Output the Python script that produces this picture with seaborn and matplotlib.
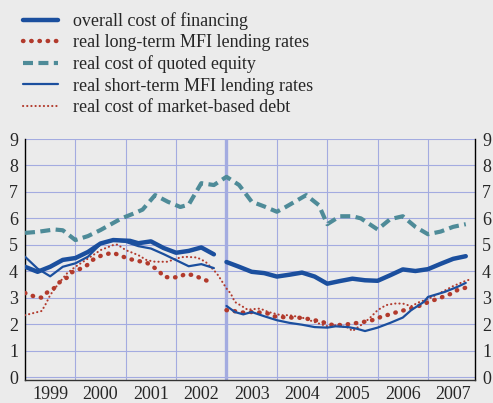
import numpy as np
import pandas as pd
import seaborn as sns
import matplotlib
matplotlib.use("Agg")
import matplotlib.pyplot as plt

# months since January 1999, values in % per annum
overall_m1 = [0, 3, 6, 9, 12, 15, 18, 21, 25, 27, 30, 33, 36, 39, 42, 45]
overall_v1 = [4.17, 3.98, 4.17, 4.43, 4.50, 4.73, 5.05, 5.18, 5.15, 5.06, 5.13, 4.88, 4.70, 4.77, 4.90, 4.64]
overall_m2 = [48, 51, 54, 57, 60, 63, 66, 69, 72, 75, 78, 81, 84, 87, 90, 93, 96, 99, 102, 105]
overall_v2 = [4.35, 4.17, 3.98, 3.93, 3.80, 3.87, 3.95, 3.80, 3.53, 3.63, 3.72, 3.66, 3.64, 3.85,
              4.07, 4.01, 4.08, 4.28, 4.47, 4.57]

longterm_m1 = [0, 2, 4, 5, 7, 8, 10, 11, 13, 15, 16, 18, 20, 21, 23, 25, 27, 29, 30, 32, 33, 35,
               37, 38, 40, 42, 44]
longterm_v1 = [3.18, 3.06, 3.00, 3.17, 3.37, 3.56, 3.76, 3.95, 4.08, 4.25, 4.42, 4.58, 4.67, 4.70,
               4.57, 4.46, 4.39, 4.32, 4.23, 4.00, 3.79, 3.76, 3.79, 3.89, 3.86, 3.73, 3.60]
longterm_m2 = [48, 50, 52, 54, 56, 58, 59, 61, 63, 65, 67, 69, 71, 72, 74, 76, 78, 80, 82, 84, 85,
               87, 89, 91, 93, 95, 96, 98, 100, 102, 103, 105]
longterm_v2 = [2.53, 2.49, 2.44, 2.46, 2.44, 2.40, 2.30, 2.27, 2.25, 2.25, 2.21, 2.15, 2.08, 2.00,
               1.96, 1.98, 2.02, 2.07, 2.12, 2.21, 2.30, 2.37, 2.48, 2.55, 2.65, 2.74, 2.84, 2.94,
               3.06, 3.18, 3.29, 3.38]

equity_m = [0, 3, 7, 9, 12, 15, 18, 23, 26, 28, 31, 34, 37, 39, 42, 45, 48, 51, 54, 57, 60, 62,
            67, 70, 72, 75, 78, 80, 84, 87, 90, 93, 96, 99, 102, 105]
equity_v = [5.45, 5.49, 5.58, 5.55, 5.18, 5.33, 5.56, 6.00, 6.19, 6.33, 6.88, 6.63, 6.43, 6.52,
            7.33, 7.26, 7.57, 7.26, 6.63, 6.45, 6.25, 6.42, 6.88, 6.50, 5.78, 6.08, 6.08, 6.00,
            5.58, 5.97, 6.08, 5.68, 5.40, 5.50, 5.68, 5.78]

shortterm_m1 = [0, 3, 6, 9, 12, 15, 18, 21, 24, 27, 30, 33, 36, 39, 42, 45]
shortterm_v1 = [4.55, 4.10, 3.81, 4.17, 4.30, 4.55, 5.03, 5.18, 5.11, 4.95, 4.86, 4.65, 4.42, 4.19,
                4.27, 4.12]
shortterm_m2 = [48, 50, 52, 54, 57, 60, 63, 66, 69, 72, 74, 77, 79, 81, 84, 87, 90, 92, 95, 96,
                100, 103, 105]
shortterm_v2 = [2.69, 2.46, 2.37, 2.46, 2.30, 2.15, 2.05, 1.98, 1.89, 1.87, 1.92, 1.89, 1.83, 1.74,
                1.87, 2.05, 2.25, 2.53, 2.84, 3.03, 3.22, 3.41, 3.56]

market_m = [0, 2, 4, 5, 6, 8, 10, 12, 15, 18, 21, 22, 24, 27, 29, 31, 34, 36, 38, 41, 43, 45, 46,
            48, 49, 50, 52, 53, 56, 58, 61, 63, 66, 69, 72, 74, 77, 78, 80, 82, 84, 86, 88, 90,
            92, 94, 96, 99, 102, 105, 106]
market_v = [2.34, 2.42, 2.50, 2.78, 3.10, 3.54, 3.92, 4.17, 4.48, 4.80, 4.99, 5.01, 4.80, 4.61,
            4.42, 4.36, 4.36, 4.48, 4.55, 4.52, 4.36, 4.04, 3.85, 3.35, 3.16, 2.84, 2.65, 2.55,
            2.59, 2.46, 2.34, 2.34, 2.25, 2.08, 1.92, 1.96, 1.87, 1.74, 1.96, 2.21, 2.53, 2.72,
            2.78, 2.78, 2.68, 2.84, 2.95, 3.19, 3.44, 3.64, 3.69]

years = ["1999", "2000", "2001", "2002", "2003", "2004", "2005", "2006", "2007"]
break_month = 48

labels = ["overall cost of financing", "real long-term MFI lending rates",
          "real cost of quoted equity", "real short-term MFI lending rates",
          "real cost of market-based debt"]

# colours
bg = "#ebebeb"
grid_col = "#a3abe0"
blue = "#1b4f9e"
red = "#b23a2c"
teal = "#4e8b98"

sns.set_theme(style="white")
plt.rcParams["font.family"] = ["Liberation Serif", "DejaVu Serif"]
plt.rcParams["font.size"] = 13

fig = plt.figure(figsize=(4.93, 4.03), dpi=100, facecolor=bg)
ax = fig.add_axes([25 / 493, 23 / 403, 450 / 493, 241 / 403])
ax.set_facecolor(bg)

# grid
for v in range(1, 10):
    ax.axhline(v, color=grid_col, lw=0.8, zorder=0)
ax.axhline(0, color=grid_col, lw=0.8, zorder=0)
for i in range(1, len(years)):
    ax.axvline(12 * i, color=grid_col, lw=2.4 if 12 * i == break_month else 0.8, zorder=0)


def seg(m, v):
    return pd.DataFrame({"month": m, "value": v})


# thin dotted market-based debt
sns.lineplot(data=seg(market_m, market_v), x="month", y="value", ax=ax, color=red, lw=1.5,
             linestyle=(0, (0.1, 1.9)), dash_capstyle="round", label=labels[4], zorder=3)
# long-term MFI lending rates, big dots
for i, (m, v) in enumerate([(longterm_m1, longterm_v1), (longterm_m2, longterm_v2)]):
    sns.lineplot(data=seg(m, v), x="month", y="value", ax=ax, color=red, lw=3.2,
                 linestyle=(0, (0.1, 1.75)), dash_capstyle="round",
                 label=labels[1] if i == 0 else None, zorder=3)
# quoted equity, dashed
sns.lineplot(data=seg(equity_m, equity_v), x="month", y="value", ax=ax, color=teal, lw=3.0,
             linestyle=(0, (2.4, 1.3)), dash_capstyle="butt", label=labels[2], zorder=3)
# short-term MFI lending rates, thin solid
for i, (m, v) in enumerate([(shortterm_m1, shortterm_v1), (shortterm_m2, shortterm_v2)]):
    sns.lineplot(data=seg(m, v), x="month", y="value", ax=ax, color=blue, lw=1.6,
                 label=labels[3] if i == 0 else None, zorder=4)
# overall cost of financing, thick solid
for i, (m, v) in enumerate([(overall_m1, overall_v1), (overall_m2, overall_v2)]):
    sns.lineplot(data=seg(m, v), x="month", y="value", ax=ax, color=blue, lw=3.2,
                 label=labels[0] if i == 0 else None, zorder=5)

ax.set_xlim(0, 107.2)
ax.set_ylim(-0.11, 9)
ax.set_xlabel("")
ax.set_ylabel("")

# y ticks both sides
ax.set_yticks(range(0, 10))
ax.tick_params(axis="y", which="both", length=0, labelsize=13, pad=5,
               left=True, right=True, labelleft=True, labelright=True)

# x: ticks at year boundaries, labels mid-year
ax.set_xticks([12 * i for i in range(len(years))])
ax.set_xticklabels([])
ax.set_xticks([12 * i + 6 for i in range(len(years))], minor=True)
ax.set_xticklabels(years, minor=True)
ax.tick_params(axis="x", which="major", direction="out", length=4, width=1.4, color="#333333")
ax.tick_params(axis="x", which="minor", length=0, labelsize=13, pad=4)

for side in ["left", "right"]:
    ax.spines[side].set_color("black")
    ax.spines[side].set_linewidth(1.0)
ax.spines["top"].set_visible(False)
ax.spines["bottom"].set_color("#333333")
ax.spines["bottom"].set_linewidth(1.0)

handles, labs = ax.get_legend_handles_labels()
order = [labs.index(l) for l in labels]
leg = ax.legend([handles[k] for k in order], [labs[k] for k in order],
                loc="upper left", bbox_to_anchor=(23 / 493, 1 - 12 / 403),
                bbox_transform=fig.transFigure, frameon=False, fontsize=13,
                handlelength=1.95, handletextpad=0.8, labelspacing=0.24,
                borderpad=0, borderaxespad=0)

fig.savefig("out.png", dpi=100, facecolor=bg)
